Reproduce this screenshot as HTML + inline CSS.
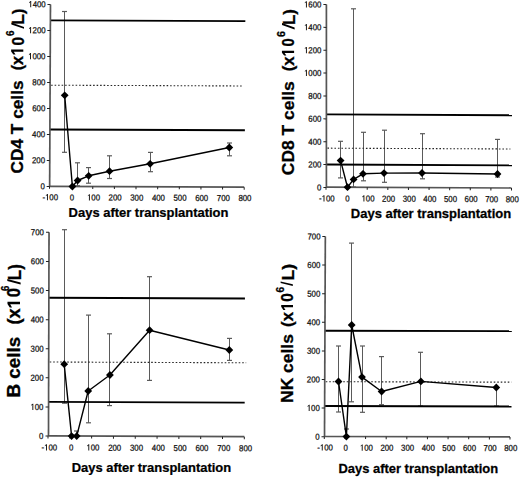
<!DOCTYPE html>
<html><head><meta charset="utf-8"><style>
html,body{margin:0;padding:0;background:#fff;}
body{width:520px;height:478px;overflow:hidden;}
svg{display:block;}
.t{font-family:"Liberation Sans",sans-serif;font-size:8.7px;fill:#111;stroke:#111;stroke-width:0.25px;}
.xt{font-family:"Liberation Sans",sans-serif;font-weight:bold;fill:#000;stroke:#000;stroke-width:0.25px;}
.yt{font-family:"Liberation Sans",sans-serif;font-weight:bold;fill:#000;stroke:#000;stroke-width:0.3px;}
</style></head><body>
<svg width="520" height="478" viewBox="0 0 520 478">
<rect width="520" height="478" fill="#fff"/>
<line x1="64.5" y1="11.5" x2="64.5" y2="95.3" stroke="#5a5a5a" stroke-width="1"/>
<line x1="62" y1="11.5" x2="67" y2="11.5" stroke="#5a5a5a" stroke-width="1.2"/>
<line x1="64.5" y1="95.3" x2="64.5" y2="152.3" stroke="#5a5a5a" stroke-width="1"/>
<line x1="62" y1="152.3" x2="67" y2="152.3" stroke="#5a5a5a" stroke-width="1.2"/>
<line x1="77.5" y1="162.8" x2="77.5" y2="180.5" stroke="#5a5a5a" stroke-width="1"/>
<line x1="75" y1="162.8" x2="80" y2="162.8" stroke="#5a5a5a" stroke-width="1.2"/>
<line x1="77.5" y1="180.5" x2="77.5" y2="185.8" stroke="#5a5a5a" stroke-width="1"/>
<line x1="75" y1="185.8" x2="80" y2="185.8" stroke="#5a5a5a" stroke-width="1.2"/>
<line x1="88.5" y1="167.6" x2="88.5" y2="175.8" stroke="#5a5a5a" stroke-width="1"/>
<line x1="86" y1="167.6" x2="91" y2="167.6" stroke="#5a5a5a" stroke-width="1.2"/>
<line x1="88.5" y1="175.8" x2="88.5" y2="183.2" stroke="#5a5a5a" stroke-width="1"/>
<line x1="86" y1="183.2" x2="91" y2="183.2" stroke="#5a5a5a" stroke-width="1.2"/>
<line x1="109.5" y1="155.8" x2="109.5" y2="171.2" stroke="#5a5a5a" stroke-width="1"/>
<line x1="107" y1="155.8" x2="112" y2="155.8" stroke="#5a5a5a" stroke-width="1.2"/>
<line x1="109.5" y1="171.2" x2="109.5" y2="178.5" stroke="#5a5a5a" stroke-width="1"/>
<line x1="107" y1="178.5" x2="112" y2="178.5" stroke="#5a5a5a" stroke-width="1.2"/>
<line x1="150.5" y1="152.4" x2="150.5" y2="163.8" stroke="#5a5a5a" stroke-width="1"/>
<line x1="148" y1="152.4" x2="153" y2="152.4" stroke="#5a5a5a" stroke-width="1.2"/>
<line x1="150.5" y1="163.8" x2="150.5" y2="171.7" stroke="#5a5a5a" stroke-width="1"/>
<line x1="148" y1="171.7" x2="153" y2="171.7" stroke="#5a5a5a" stroke-width="1.2"/>
<line x1="229.5" y1="143" x2="229.5" y2="147.5" stroke="#5a5a5a" stroke-width="1"/>
<line x1="227" y1="143" x2="232" y2="143" stroke="#5a5a5a" stroke-width="1.2"/>
<line x1="229.5" y1="147.5" x2="229.5" y2="155.8" stroke="#5a5a5a" stroke-width="1"/>
<line x1="227" y1="155.8" x2="232" y2="155.8" stroke="#5a5a5a" stroke-width="1.2"/>
<g transform="translate(49.65 186.35) matrix(1 0.004 -0.0045 1 0 0) translate(-49.65 -186.35)">
<line x1="49.65" y1="20.4" x2="244.6" y2="20.4" stroke="#000" stroke-width="1.85"/>
<line x1="50.65" y1="85.2" x2="243" y2="85.2" stroke="#262626" stroke-width="1.1" stroke-dasharray="1.6 1.9"/>
<line x1="49.65" y1="129.5" x2="244.6" y2="129.5" stroke="#000" stroke-width="1.85"/>
<line x1="49.65" y1="4.4" x2="49.65" y2="186.35" stroke="#555" stroke-width="1.7"/>
<line x1="49.65" y1="186.35" x2="244.2" y2="186.35" stroke="#555" stroke-width="1.7"/>
<line x1="46.65" y1="186.4" x2="49.65" y2="186.4" stroke="#222" stroke-width="1"/>
<text class="t" transform="translate(40.55 189.4) scale(0.9 1)">0</text>
<line x1="46.65" y1="160.4" x2="49.65" y2="160.4" stroke="#222" stroke-width="1"/>
<text class="t" transform="translate(31.84 163.4) scale(0.9 1)">200</text>
<line x1="46.65" y1="134.4" x2="49.65" y2="134.4" stroke="#222" stroke-width="1"/>
<text class="t" transform="translate(31.84 137.4) scale(0.9 1)">400</text>
<line x1="46.65" y1="108.4" x2="49.65" y2="108.4" stroke="#222" stroke-width="1"/>
<text class="t" transform="translate(31.84 111.4) scale(0.9 1)">600</text>
<line x1="46.65" y1="82.4" x2="49.65" y2="82.4" stroke="#222" stroke-width="1"/>
<text class="t" transform="translate(31.84 85.4) scale(0.9 1)">800</text>
<line x1="46.65" y1="56.4" x2="49.65" y2="56.4" stroke="#222" stroke-width="1"/>
<polygon points="30.38,59.4 30.38,53.17 29.76,53.17 28.35,54.35 28.35,55.22 29.44,54.31 29.44,59.4" fill="#111"/><text class="t" transform="translate(31.84 59.4) scale(0.9 1)">000</text>
<line x1="46.65" y1="30.4" x2="49.65" y2="30.4" stroke="#222" stroke-width="1"/>
<polygon points="30.38,33.4 30.38,27.17 29.76,27.17 28.35,28.35 28.35,29.22 29.44,28.31 29.44,33.4" fill="#111"/><text class="t" transform="translate(31.84 33.4) scale(0.9 1)">200</text>
<line x1="46.65" y1="4.4" x2="49.65" y2="4.4" stroke="#222" stroke-width="1"/>
<polygon points="30.38,7.4 30.38,1.17 29.76,1.17 28.35,2.35 28.35,3.22 29.44,2.31 29.44,7.4" fill="#111"/><text class="t" transform="translate(31.84 7.4) scale(0.9 1)">400</text>
<line x1="49.5" y1="186.35" x2="49.5" y2="188.85" stroke="#222" stroke-width="1"/>
<text class="t" transform="translate(42.47 200.3) scale(0.9 1)">-</text><polygon points="47.97,200.3 47.97,194.07 47.34,194.07 45.93,195.25 45.93,196.12 47.03,195.21 47.03,200.3" fill="#111"/><text class="t" transform="translate(49.43 200.3) scale(0.9 1)">00</text>
<line x1="71.13" y1="186.35" x2="71.13" y2="188.85" stroke="#222" stroke-width="1"/>
<text class="t" transform="translate(69.76 200.3) scale(0.9 1)">0</text>
<line x1="92.77" y1="186.35" x2="92.77" y2="188.85" stroke="#222" stroke-width="1"/>
<polygon points="89.93,200.3 89.93,194.07 89.31,194.07 87.9,195.25 87.9,196.12 88.99,195.21 88.99,200.3" fill="#111"/><text class="t" transform="translate(91.39 200.3) scale(0.9 1)">00</text>
<line x1="114.4" y1="186.35" x2="114.4" y2="188.85" stroke="#222" stroke-width="1"/>
<text class="t" transform="translate(108.67 200.3) scale(0.9 1)">200</text>
<line x1="136.03" y1="186.35" x2="136.03" y2="188.85" stroke="#222" stroke-width="1"/>
<text class="t" transform="translate(130.3 200.3) scale(0.9 1)">300</text>
<line x1="157.67" y1="186.35" x2="157.67" y2="188.85" stroke="#222" stroke-width="1"/>
<text class="t" transform="translate(151.94 200.3) scale(0.9 1)">400</text>
<line x1="179.3" y1="186.35" x2="179.3" y2="188.85" stroke="#222" stroke-width="1"/>
<text class="t" transform="translate(173.57 200.3) scale(0.9 1)">500</text>
<line x1="200.93" y1="186.35" x2="200.93" y2="188.85" stroke="#222" stroke-width="1"/>
<text class="t" transform="translate(195.2 200.3) scale(0.9 1)">600</text>
<line x1="222.57" y1="186.35" x2="222.57" y2="188.85" stroke="#222" stroke-width="1"/>
<text class="t" transform="translate(216.84 200.3) scale(0.9 1)">700</text>
<line x1="244.2" y1="186.35" x2="244.2" y2="188.85" stroke="#222" stroke-width="1"/>
<text class="t" transform="translate(238.47 200.3) scale(0.9 1)">800</text>
</g>
<polyline points="64.7,95.3 72.4,186.5 77.6,180.5 88.7,175.8 109.5,171.2 150.1,163.8 229.3,147.5" fill="none" stroke="#000" stroke-width="1.4" stroke-linejoin="round"/>
<path d="M64.7 91.4L68.6 95.3L64.7 99.2L60.8 95.3Z" fill="#000"/>
<path d="M72.4 182.6L76.3 186.5L72.4 190.4L68.5 186.5Z" fill="#000"/>
<path d="M77.6 176.6L81.5 180.5L77.6 184.4L73.7 180.5Z" fill="#000"/>
<path d="M88.7 171.9L92.6 175.8L88.7 179.7L84.8 175.8Z" fill="#000"/>
<path d="M109.5 167.3L113.4 171.2L109.5 175.1L105.6 171.2Z" fill="#000"/>
<path d="M150.1 159.9L154 163.8L150.1 167.7L146.2 163.8Z" fill="#000"/>
<path d="M229.3 143.6L233.2 147.5L229.3 151.4L225.4 147.5Z" fill="#000"/>
<text class="xt" style="font-size:12.5px" transform="translate(68.62 216.9) scale(1.0374 1)">Days after transplantation</text>
<text class="yt" style="font-size:17px" transform="translate(22.9 173.49) rotate(-90) scale(1.0158 1)">CD4 T cells</text>
<text class="yt" style="font-size:17px" transform="translate(23.4 70.31) rotate(-90) scale(0.9497 1)">(x</text>
<polygon points="23.3,49.6 11.13,49.6 11.13,51.52 13.36,54.6 15.57,54.6 13.78,51.85 23.3,51.85" fill="#000"/>
<text class="yt" style="font-size:17px" transform="translate(23.5 45.56) rotate(-90) scale(0.9040 1)">0</text>
<text class="yt" style="font-size:11px" transform="translate(13.5 36.02) rotate(-90) scale(0.9044 1)">6</text>
<polygon points="11.4,22.6 11.4,24.4 24,28.8 24,26.9" fill="#000"/>
<text class="yt" style="font-size:17px" transform="translate(24.4 24.66) rotate(-90) scale(1.0125 1)">L)</text>
<line x1="340.5" y1="141.3" x2="340.5" y2="160.6" stroke="#5a5a5a" stroke-width="1"/>
<line x1="338" y1="141.3" x2="343" y2="141.3" stroke="#5a5a5a" stroke-width="1.2"/>
<line x1="340.5" y1="160.6" x2="340.5" y2="177.9" stroke="#5a5a5a" stroke-width="1"/>
<line x1="338" y1="177.9" x2="343" y2="177.9" stroke="#5a5a5a" stroke-width="1.2"/>
<line x1="353.5" y1="8.8" x2="353.5" y2="179.4" stroke="#5a5a5a" stroke-width="1"/>
<line x1="351" y1="8.8" x2="356" y2="8.8" stroke="#5a5a5a" stroke-width="1.2"/>
<line x1="353.5" y1="179.4" x2="353.5" y2="187" stroke="#5a5a5a" stroke-width="1"/>
<line x1="351" y1="187" x2="356" y2="187" stroke="#5a5a5a" stroke-width="1.2"/>
<line x1="363.5" y1="132.3" x2="363.5" y2="173.8" stroke="#5a5a5a" stroke-width="1"/>
<line x1="361" y1="132.3" x2="366" y2="132.3" stroke="#5a5a5a" stroke-width="1.2"/>
<line x1="363.5" y1="173.8" x2="363.5" y2="180.8" stroke="#5a5a5a" stroke-width="1"/>
<line x1="361" y1="180.8" x2="366" y2="180.8" stroke="#5a5a5a" stroke-width="1.2"/>
<line x1="384.5" y1="130.2" x2="384.5" y2="173.1" stroke="#5a5a5a" stroke-width="1"/>
<line x1="382" y1="130.2" x2="387" y2="130.2" stroke="#5a5a5a" stroke-width="1.2"/>
<line x1="384.5" y1="173.1" x2="384.5" y2="182.3" stroke="#5a5a5a" stroke-width="1"/>
<line x1="382" y1="182.3" x2="387" y2="182.3" stroke="#5a5a5a" stroke-width="1.2"/>
<line x1="422.5" y1="133.7" x2="422.5" y2="173" stroke="#5a5a5a" stroke-width="1"/>
<line x1="420" y1="133.7" x2="425" y2="133.7" stroke="#5a5a5a" stroke-width="1.2"/>
<line x1="422.5" y1="173" x2="422.5" y2="178.8" stroke="#5a5a5a" stroke-width="1"/>
<line x1="420" y1="178.8" x2="425" y2="178.8" stroke="#5a5a5a" stroke-width="1.2"/>
<line x1="497.5" y1="139.4" x2="497.5" y2="174" stroke="#5a5a5a" stroke-width="1"/>
<line x1="495" y1="139.4" x2="500" y2="139.4" stroke="#5a5a5a" stroke-width="1.2"/>
<line x1="497.5" y1="174" x2="497.5" y2="177" stroke="#5a5a5a" stroke-width="1"/>
<line x1="495" y1="177" x2="500" y2="177" stroke="#5a5a5a" stroke-width="1.2"/>
<g transform="translate(326.4 187.15) matrix(1 0.0045 -0.0 1 0 0) translate(-326.4 -187.15)">
<line x1="326.4" y1="114.4" x2="512" y2="114.4" stroke="#000" stroke-width="1.85"/>
<line x1="327.4" y1="148.15" x2="510.4" y2="148.15" stroke="#262626" stroke-width="1.1" stroke-dasharray="1.6 1.9"/>
<line x1="326.4" y1="164.5" x2="512" y2="164.5" stroke="#000" stroke-width="1.85"/>
<line x1="326.4" y1="4.5" x2="326.4" y2="187.15" stroke="#555" stroke-width="1.7"/>
<line x1="326.4" y1="187.15" x2="511.5" y2="187.15" stroke="#555" stroke-width="1.7"/>
<line x1="323.4" y1="187.5" x2="326.4" y2="187.5" stroke="#222" stroke-width="1"/>
<text class="t" transform="translate(317.05 190.5) scale(0.9 1)">0</text>
<line x1="323.4" y1="164.62" x2="326.4" y2="164.62" stroke="#222" stroke-width="1"/>
<text class="t" transform="translate(308.34 167.62) scale(0.9 1)">200</text>
<line x1="323.4" y1="141.75" x2="326.4" y2="141.75" stroke="#222" stroke-width="1"/>
<text class="t" transform="translate(308.34 144.75) scale(0.9 1)">400</text>
<line x1="323.4" y1="118.88" x2="326.4" y2="118.88" stroke="#222" stroke-width="1"/>
<text class="t" transform="translate(308.34 121.88) scale(0.9 1)">600</text>
<line x1="323.4" y1="96" x2="326.4" y2="96" stroke="#222" stroke-width="1"/>
<text class="t" transform="translate(308.34 99) scale(0.9 1)">800</text>
<line x1="323.4" y1="73.12" x2="326.4" y2="73.12" stroke="#222" stroke-width="1"/>
<polygon points="306.88,76.12 306.88,69.9 306.26,69.9 304.85,71.08 304.85,71.95 305.94,71.04 305.94,76.12" fill="#111"/><text class="t" transform="translate(308.34 76.12) scale(0.9 1)">000</text>
<line x1="323.4" y1="50.25" x2="326.4" y2="50.25" stroke="#222" stroke-width="1"/>
<polygon points="306.88,53.25 306.88,47.02 306.26,47.02 304.85,48.2 304.85,49.07 305.94,48.16 305.94,53.25" fill="#111"/><text class="t" transform="translate(308.34 53.25) scale(0.9 1)">200</text>
<line x1="323.4" y1="27.38" x2="326.4" y2="27.38" stroke="#222" stroke-width="1"/>
<polygon points="306.88,30.38 306.88,24.15 306.26,24.15 304.85,25.33 304.85,26.2 305.94,25.29 305.94,30.38" fill="#111"/><text class="t" transform="translate(308.34 30.38) scale(0.9 1)">400</text>
<line x1="323.4" y1="4.5" x2="326.4" y2="4.5" stroke="#222" stroke-width="1"/>
<polygon points="306.88,7.5 306.88,1.27 306.26,1.27 304.85,2.45 304.85,3.32 305.94,2.41 305.94,7.5" fill="#111"/><text class="t" transform="translate(308.34 7.5) scale(0.9 1)">600</text>
<line x1="326" y1="187.15" x2="326" y2="189.65" stroke="#222" stroke-width="1"/>
<text class="t" transform="translate(318.97 201.4) scale(0.9 1)">-</text><polygon points="324.47,201.4 324.47,195.17 323.84,195.17 322.43,196.35 322.43,197.22 323.53,196.31 323.53,201.4" fill="#111"/><text class="t" transform="translate(325.93 201.4) scale(0.9 1)">00</text>
<line x1="346.61" y1="187.15" x2="346.61" y2="189.65" stroke="#222" stroke-width="1"/>
<text class="t" transform="translate(345.23 201.4) scale(0.9 1)">0</text>
<line x1="367.22" y1="187.15" x2="367.22" y2="189.65" stroke="#222" stroke-width="1"/>
<polygon points="364.39,201.4 364.39,195.17 363.76,195.17 362.35,196.35 362.35,197.22 363.45,196.31 363.45,201.4" fill="#111"/><text class="t" transform="translate(365.85 201.4) scale(0.9 1)">00</text>
<line x1="387.83" y1="187.15" x2="387.83" y2="189.65" stroke="#222" stroke-width="1"/>
<text class="t" transform="translate(382.1 201.4) scale(0.9 1)">200</text>
<line x1="408.44" y1="187.15" x2="408.44" y2="189.65" stroke="#222" stroke-width="1"/>
<text class="t" transform="translate(402.71 201.4) scale(0.9 1)">300</text>
<line x1="429.06" y1="187.15" x2="429.06" y2="189.65" stroke="#222" stroke-width="1"/>
<text class="t" transform="translate(423.33 201.4) scale(0.9 1)">400</text>
<line x1="449.67" y1="187.15" x2="449.67" y2="189.65" stroke="#222" stroke-width="1"/>
<text class="t" transform="translate(443.94 201.4) scale(0.9 1)">500</text>
<line x1="470.28" y1="187.15" x2="470.28" y2="189.65" stroke="#222" stroke-width="1"/>
<text class="t" transform="translate(464.55 201.4) scale(0.9 1)">600</text>
<line x1="490.89" y1="187.15" x2="490.89" y2="189.65" stroke="#222" stroke-width="1"/>
<text class="t" transform="translate(485.16 201.4) scale(0.9 1)">700</text>
<line x1="511.5" y1="187.15" x2="511.5" y2="189.65" stroke="#222" stroke-width="1"/>
<text class="t" transform="translate(505.77 201.4) scale(0.9 1)">800</text>
</g>
<polyline points="340.6,160.6 347.5,187.2 353.6,179.4 363,173.8 384,173.1 422,173 497.5,174" fill="none" stroke="#000" stroke-width="1.4" stroke-linejoin="round"/>
<path d="M340.6 156.7L344.5 160.6L340.6 164.5L336.7 160.6Z" fill="#000"/>
<path d="M347.5 183.3L351.4 187.2L347.5 191.1L343.6 187.2Z" fill="#000"/>
<path d="M353.6 175.5L357.5 179.4L353.6 183.3L349.7 179.4Z" fill="#000"/>
<path d="M363 169.9L366.9 173.8L363 177.7L359.1 173.8Z" fill="#000"/>
<path d="M384 169.2L387.9 173.1L384 177L380.1 173.1Z" fill="#000"/>
<path d="M422 169.1L425.9 173L422 176.9L418.1 173Z" fill="#000"/>
<path d="M497.5 170.1L501.4 174L497.5 177.9L493.6 174Z" fill="#000"/>
<text class="xt" style="font-size:12.5px" transform="translate(350.82 218.4) scale(1.0400 1)">Days after transplantation</text>
<text class="yt" style="font-size:17px" transform="translate(294 175.2) rotate(-90) scale(1.0258 1)">CD8 T cells</text>
<text class="yt" style="font-size:17px" transform="translate(294.1 71.34) rotate(-90) scale(0.9922 1)">(x</text>
<polygon points="294.1,50.8 281.93,50.8 281.93,52.64 284.16,55.6 286.37,55.6 284.58,52.96 294.1,52.96" fill="#000"/>
<text class="yt" style="font-size:17px" transform="translate(294.3 46.54) rotate(-90) scale(0.8669 1)">0</text>
<text class="yt" style="font-size:11px" transform="translate(284.5 36.95) rotate(-90) scale(0.9797 1)">6</text>
<polygon points="282,23 282,25 294.6,29.5 294.6,27.5" fill="#000"/>
<text class="yt" style="font-size:17px" transform="translate(294.8 25.04) rotate(-90) scale(0.9911 1)">L)</text>
<line x1="64.5" y1="229.7" x2="64.5" y2="364.2" stroke="#5a5a5a" stroke-width="1"/>
<line x1="62" y1="229.7" x2="67" y2="229.7" stroke="#5a5a5a" stroke-width="1.2"/>
<line x1="64.5" y1="364.2" x2="64.5" y2="403.2" stroke="#5a5a5a" stroke-width="1"/>
<line x1="62" y1="403.2" x2="67" y2="403.2" stroke="#5a5a5a" stroke-width="1.2"/>
<line x1="76.5" y1="431" x2="76.5" y2="436.1" stroke="#5a5a5a" stroke-width="1"/>
<line x1="74" y1="431" x2="79" y2="431" stroke="#5a5a5a" stroke-width="1.2"/>
<line x1="88.5" y1="315.1" x2="88.5" y2="391" stroke="#5a5a5a" stroke-width="1"/>
<line x1="86" y1="315.1" x2="91" y2="315.1" stroke="#5a5a5a" stroke-width="1.2"/>
<line x1="88.5" y1="391" x2="88.5" y2="422.8" stroke="#5a5a5a" stroke-width="1"/>
<line x1="86" y1="422.8" x2="91" y2="422.8" stroke="#5a5a5a" stroke-width="1.2"/>
<line x1="109.5" y1="333.8" x2="109.5" y2="375" stroke="#5a5a5a" stroke-width="1"/>
<line x1="107" y1="333.8" x2="112" y2="333.8" stroke="#5a5a5a" stroke-width="1.2"/>
<line x1="109.5" y1="375" x2="109.5" y2="405.6" stroke="#5a5a5a" stroke-width="1"/>
<line x1="107" y1="405.6" x2="112" y2="405.6" stroke="#5a5a5a" stroke-width="1.2"/>
<line x1="149.5" y1="276.7" x2="149.5" y2="330.2" stroke="#5a5a5a" stroke-width="1"/>
<line x1="147" y1="276.7" x2="152" y2="276.7" stroke="#5a5a5a" stroke-width="1.2"/>
<line x1="149.5" y1="330.2" x2="149.5" y2="380.4" stroke="#5a5a5a" stroke-width="1"/>
<line x1="147" y1="380.4" x2="152" y2="380.4" stroke="#5a5a5a" stroke-width="1.2"/>
<line x1="229.5" y1="338.4" x2="229.5" y2="350" stroke="#5a5a5a" stroke-width="1"/>
<line x1="227" y1="338.4" x2="232" y2="338.4" stroke="#5a5a5a" stroke-width="1.2"/>
<line x1="229.5" y1="350" x2="229.5" y2="360.4" stroke="#5a5a5a" stroke-width="1"/>
<line x1="227" y1="360.4" x2="232" y2="360.4" stroke="#5a5a5a" stroke-width="1.2"/>
<g transform="translate(48.5 435.9) matrix(1 0.004 -0.0026 1 0 0) translate(-48.5 -435.9)">
<line x1="48.5" y1="297.7" x2="244.6" y2="297.7" stroke="#000" stroke-width="1.85"/>
<line x1="49.5" y1="362" x2="246" y2="362" stroke="#262626" stroke-width="1.1" stroke-dasharray="1.6 1.9"/>
<line x1="48.5" y1="401.8" x2="244.6" y2="401.8" stroke="#000" stroke-width="1.85"/>
<line x1="48.5" y1="232.3" x2="48.5" y2="435.9" stroke="#555" stroke-width="1.7"/>
<line x1="48.5" y1="435.9" x2="244.3" y2="435.9" stroke="#555" stroke-width="1.7"/>
<line x1="45.5" y1="436.1" x2="48.5" y2="436.1" stroke="#222" stroke-width="1"/>
<text class="t" transform="translate(39.05 439.1) scale(0.9 1)">0</text>
<line x1="45.5" y1="406.99" x2="48.5" y2="406.99" stroke="#222" stroke-width="1"/>
<polygon points="33.24,409.99 33.24,403.76 32.61,403.76 31.2,404.94 31.2,405.81 32.3,404.9 32.3,409.99" fill="#111"/><text class="t" transform="translate(34.69 409.99) scale(0.9 1)">00</text>
<line x1="45.5" y1="377.87" x2="48.5" y2="377.87" stroke="#222" stroke-width="1"/>
<text class="t" transform="translate(30.34 380.87) scale(0.9 1)">200</text>
<line x1="45.5" y1="348.76" x2="48.5" y2="348.76" stroke="#222" stroke-width="1"/>
<text class="t" transform="translate(30.34 351.76) scale(0.9 1)">300</text>
<line x1="45.5" y1="319.64" x2="48.5" y2="319.64" stroke="#222" stroke-width="1"/>
<text class="t" transform="translate(30.34 322.64) scale(0.9 1)">400</text>
<line x1="45.5" y1="290.53" x2="48.5" y2="290.53" stroke="#222" stroke-width="1"/>
<text class="t" transform="translate(30.34 293.53) scale(0.9 1)">500</text>
<line x1="45.5" y1="261.41" x2="48.5" y2="261.41" stroke="#222" stroke-width="1"/>
<text class="t" transform="translate(30.34 264.41) scale(0.9 1)">600</text>
<line x1="45.5" y1="232.3" x2="48.5" y2="232.3" stroke="#222" stroke-width="1"/>
<text class="t" transform="translate(30.34 235.3) scale(0.9 1)">700</text>
<line x1="48" y1="435.9" x2="48" y2="438.4" stroke="#222" stroke-width="1"/>
<text class="t" transform="translate(41.47 450.4) scale(0.9 1)">-</text><polygon points="46.97,450.4 46.97,444.17 46.34,444.17 44.93,445.35 44.93,446.22 46.03,445.31 46.03,450.4" fill="#111"/><text class="t" transform="translate(48.43 450.4) scale(0.9 1)">00</text>
<line x1="69.81" y1="435.9" x2="69.81" y2="438.4" stroke="#222" stroke-width="1"/>
<text class="t" transform="translate(68.93 450.4) scale(0.9 1)">0</text>
<line x1="91.62" y1="435.9" x2="91.62" y2="438.4" stroke="#222" stroke-width="1"/>
<polygon points="89.29,450.4 89.29,444.17 88.66,444.17 87.25,445.35 87.25,446.22 88.35,445.31 88.35,450.4" fill="#111"/><text class="t" transform="translate(90.75 450.4) scale(0.9 1)">00</text>
<line x1="113.43" y1="435.9" x2="113.43" y2="438.4" stroke="#222" stroke-width="1"/>
<text class="t" transform="translate(108.2 450.4) scale(0.9 1)">200</text>
<line x1="135.24" y1="435.9" x2="135.24" y2="438.4" stroke="#222" stroke-width="1"/>
<text class="t" transform="translate(130.01 450.4) scale(0.9 1)">300</text>
<line x1="157.06" y1="435.9" x2="157.06" y2="438.4" stroke="#222" stroke-width="1"/>
<text class="t" transform="translate(151.83 450.4) scale(0.9 1)">400</text>
<line x1="178.87" y1="435.9" x2="178.87" y2="438.4" stroke="#222" stroke-width="1"/>
<text class="t" transform="translate(173.64 450.4) scale(0.9 1)">500</text>
<line x1="200.68" y1="435.9" x2="200.68" y2="438.4" stroke="#222" stroke-width="1"/>
<text class="t" transform="translate(195.45 450.4) scale(0.9 1)">600</text>
<line x1="222.49" y1="435.9" x2="222.49" y2="438.4" stroke="#222" stroke-width="1"/>
<text class="t" transform="translate(217.26 450.4) scale(0.9 1)">700</text>
<line x1="244.3" y1="435.9" x2="244.3" y2="438.4" stroke="#222" stroke-width="1"/>
<text class="t" transform="translate(239.07 450.4) scale(0.9 1)">800</text>
</g>
<polyline points="64.2,364.2 71.6,436.1 76.7,436.1 88.2,391 109.9,375 149.6,330.2 229.3,350" fill="none" stroke="#000" stroke-width="1.4" stroke-linejoin="round"/>
<path d="M64.2 360.3L68.1 364.2L64.2 368.1L60.3 364.2Z" fill="#000"/>
<path d="M71.6 432.2L75.5 436.1L71.6 440L67.7 436.1Z" fill="#000"/>
<path d="M76.7 432.2L80.6 436.1L76.7 440L72.8 436.1Z" fill="#000"/>
<path d="M88.2 387.1L92.1 391L88.2 394.9L84.3 391Z" fill="#000"/>
<path d="M109.9 371.1L113.8 375L109.9 378.9L106 375Z" fill="#000"/>
<path d="M149.6 326.3L153.5 330.2L149.6 334.1L145.7 330.2Z" fill="#000"/>
<path d="M229.3 346.1L233.2 350L229.3 353.9L225.4 350Z" fill="#000"/>
<text class="xt" style="font-size:12.5px" transform="translate(71.73 471.5) scale(1.0348 1)">Days after transplantation</text>
<text class="yt" style="font-size:17.5px" transform="translate(20.1 397.47) rotate(-90) scale(1.0768 1)">B cells</text>
<text class="yt" style="font-size:17.5px" transform="translate(20 324.6) rotate(-90) scale(1.0327 1)">(x</text>
<polygon points="20,301.7 7.47,301.7 7.47,303.88 9.76,307.4 12.04,307.4 10.2,304.26 20,304.26" fill="#000"/>
<text class="yt" style="font-size:17.5px" transform="translate(20 297.32) rotate(-90) scale(0.9504 1)">0</text>
<text class="yt" style="font-size:11px" transform="translate(9.4 291.01) rotate(-90) scale(0.8667 1)">6</text>
<polygon points="7.3,279 7.3,281 20.6,284.6 20.6,282.6" fill="#000"/>
<text class="yt" style="font-size:17.5px" transform="translate(20.5 280.14) rotate(-90) scale(0.9628 1)">L)</text>
<line x1="338.5" y1="346" x2="338.5" y2="381.5" stroke="#5a5a5a" stroke-width="1"/>
<line x1="336" y1="346" x2="341" y2="346" stroke="#5a5a5a" stroke-width="1.2"/>
<line x1="338.5" y1="381.5" x2="338.5" y2="412" stroke="#5a5a5a" stroke-width="1"/>
<line x1="336" y1="412" x2="341" y2="412" stroke="#5a5a5a" stroke-width="1.2"/>
<line x1="346.5" y1="429" x2="346.5" y2="436.6" stroke="#5a5a5a" stroke-width="1"/>
<line x1="344" y1="429" x2="349" y2="429" stroke="#5a5a5a" stroke-width="1.2"/>
<line x1="351.5" y1="243.1" x2="351.5" y2="325" stroke="#5a5a5a" stroke-width="1"/>
<line x1="349" y1="243.1" x2="354" y2="243.1" stroke="#5a5a5a" stroke-width="1.2"/>
<line x1="351.5" y1="325" x2="351.5" y2="401.8" stroke="#5a5a5a" stroke-width="1"/>
<line x1="349" y1="401.8" x2="354" y2="401.8" stroke="#5a5a5a" stroke-width="1.2"/>
<line x1="362.5" y1="346" x2="362.5" y2="377.1" stroke="#5a5a5a" stroke-width="1"/>
<line x1="360" y1="346" x2="365" y2="346" stroke="#5a5a5a" stroke-width="1.2"/>
<line x1="362.5" y1="377.1" x2="362.5" y2="412.3" stroke="#5a5a5a" stroke-width="1"/>
<line x1="360" y1="412.3" x2="365" y2="412.3" stroke="#5a5a5a" stroke-width="1.2"/>
<line x1="381.5" y1="356.6" x2="381.5" y2="391.5" stroke="#5a5a5a" stroke-width="1"/>
<line x1="379" y1="356.6" x2="384" y2="356.6" stroke="#5a5a5a" stroke-width="1.2"/>
<line x1="381.5" y1="391.5" x2="381.5" y2="404.7" stroke="#5a5a5a" stroke-width="1"/>
<line x1="379" y1="404.7" x2="384" y2="404.7" stroke="#5a5a5a" stroke-width="1.2"/>
<line x1="420.5" y1="352.3" x2="420.5" y2="381.4" stroke="#5a5a5a" stroke-width="1"/>
<line x1="418" y1="352.3" x2="423" y2="352.3" stroke="#5a5a5a" stroke-width="1.2"/>
<line x1="420.5" y1="381.4" x2="420.5" y2="406" stroke="#5a5a5a" stroke-width="1"/>
<line x1="418" y1="406" x2="423" y2="406" stroke="#5a5a5a" stroke-width="1.2"/>
<line x1="496.5" y1="387.5" x2="496.5" y2="406" stroke="#5a5a5a" stroke-width="1"/>
<line x1="494" y1="406" x2="499" y2="406" stroke="#5a5a5a" stroke-width="1.2"/>
<g transform="translate(324.5 436.5) matrix(1 0.0025 -0.0042 1 0 0) translate(-324.5 -436.5)">
<line x1="324.5" y1="330.7" x2="511.4" y2="330.7" stroke="#000" stroke-width="1.85"/>
<line x1="325.5" y1="381.7" x2="511.2" y2="381.7" stroke="#262626" stroke-width="1.1" stroke-dasharray="1.6 1.9"/>
<line x1="324.5" y1="406" x2="511.4" y2="406" stroke="#000" stroke-width="1.85"/>
<line x1="324.5" y1="236.5" x2="324.5" y2="436.5" stroke="#555" stroke-width="1.7"/>
<line x1="324.5" y1="436.5" x2="510" y2="436.5" stroke="#555" stroke-width="1.7"/>
<line x1="321.5" y1="436.7" x2="324.5" y2="436.7" stroke="#222" stroke-width="1"/>
<text class="t" transform="translate(315.35 439.7) scale(0.9 1)">0</text>
<line x1="321.5" y1="408.1" x2="324.5" y2="408.1" stroke="#222" stroke-width="1"/>
<polygon points="309.54,411.1 309.54,404.87 308.91,404.87 307.5,406.05 307.5,406.92 308.6,406.01 308.6,411.1" fill="#111"/><text class="t" transform="translate(310.99 411.1) scale(0.9 1)">00</text>
<line x1="321.5" y1="379.5" x2="324.5" y2="379.5" stroke="#222" stroke-width="1"/>
<text class="t" transform="translate(306.64 382.5) scale(0.9 1)">200</text>
<line x1="321.5" y1="350.9" x2="324.5" y2="350.9" stroke="#222" stroke-width="1"/>
<text class="t" transform="translate(306.64 353.9) scale(0.9 1)">300</text>
<line x1="321.5" y1="322.3" x2="324.5" y2="322.3" stroke="#222" stroke-width="1"/>
<text class="t" transform="translate(306.64 325.3) scale(0.9 1)">400</text>
<line x1="321.5" y1="293.7" x2="324.5" y2="293.7" stroke="#222" stroke-width="1"/>
<text class="t" transform="translate(306.64 296.7) scale(0.9 1)">500</text>
<line x1="321.5" y1="265.1" x2="324.5" y2="265.1" stroke="#222" stroke-width="1"/>
<text class="t" transform="translate(306.64 268.1) scale(0.9 1)">600</text>
<line x1="321.5" y1="236.5" x2="324.5" y2="236.5" stroke="#222" stroke-width="1"/>
<text class="t" transform="translate(306.64 239.5) scale(0.9 1)">700</text>
<line x1="324.3" y1="436.5" x2="324.3" y2="439" stroke="#222" stroke-width="1"/>
<text class="t" transform="translate(317.27 450.6) scale(0.9 1)">-</text><polygon points="322.77,450.6 322.77,444.37 322.14,444.37 320.73,445.55 320.73,446.42 321.83,445.51 321.83,450.6" fill="#111"/><text class="t" transform="translate(324.23 450.6) scale(0.9 1)">00</text>
<line x1="344.93" y1="436.5" x2="344.93" y2="439" stroke="#222" stroke-width="1"/>
<text class="t" transform="translate(343.56 450.6) scale(0.9 1)">0</text>
<line x1="365.57" y1="436.5" x2="365.57" y2="439" stroke="#222" stroke-width="1"/>
<polygon points="362.73,450.6 362.73,444.37 362.11,444.37 360.7,445.55 360.7,446.42 361.79,445.51 361.79,450.6" fill="#111"/><text class="t" transform="translate(364.19 450.6) scale(0.9 1)">00</text>
<line x1="386.2" y1="436.5" x2="386.2" y2="439" stroke="#222" stroke-width="1"/>
<text class="t" transform="translate(380.47 450.6) scale(0.9 1)">200</text>
<line x1="406.83" y1="436.5" x2="406.83" y2="439" stroke="#222" stroke-width="1"/>
<text class="t" transform="translate(401.1 450.6) scale(0.9 1)">300</text>
<line x1="427.47" y1="436.5" x2="427.47" y2="439" stroke="#222" stroke-width="1"/>
<text class="t" transform="translate(421.74 450.6) scale(0.9 1)">400</text>
<line x1="448.1" y1="436.5" x2="448.1" y2="439" stroke="#222" stroke-width="1"/>
<text class="t" transform="translate(442.37 450.6) scale(0.9 1)">500</text>
<line x1="468.73" y1="436.5" x2="468.73" y2="439" stroke="#222" stroke-width="1"/>
<text class="t" transform="translate(463 450.6) scale(0.9 1)">600</text>
<line x1="489.37" y1="436.5" x2="489.37" y2="439" stroke="#222" stroke-width="1"/>
<text class="t" transform="translate(483.64 450.6) scale(0.9 1)">700</text>
<line x1="510" y1="436.5" x2="510" y2="439" stroke="#222" stroke-width="1"/>
<text class="t" transform="translate(504.27 450.6) scale(0.9 1)">800</text>
</g>
<polyline points="338.5,381.5 346.4,436.6 351.7,325 362,377.1 381.6,391.5 420.9,381.4 496.3,387.5" fill="none" stroke="#000" stroke-width="1.4" stroke-linejoin="round"/>
<path d="M338.5 377.6L342.4 381.5L338.5 385.4L334.6 381.5Z" fill="#000"/>
<path d="M346.4 432.7L350.3 436.6L346.4 440.5L342.5 436.6Z" fill="#000"/>
<path d="M351.7 321.1L355.6 325L351.7 328.9L347.8 325Z" fill="#000"/>
<path d="M362 373.2L365.9 377.1L362 381L358.1 377.1Z" fill="#000"/>
<path d="M381.6 387.6L385.5 391.5L381.6 395.4L377.7 391.5Z" fill="#000"/>
<path d="M420.9 377.5L424.8 381.4L420.9 385.3L417 381.4Z" fill="#000"/>
<path d="M496.3 383.6L500.2 387.5L496.3 391.4L492.4 387.5Z" fill="#000"/>
<text class="xt" style="font-size:12.5px" transform="translate(338.43 473) scale(1.0361 1)">Days after transplantation</text>
<text class="yt" style="font-size:17px" transform="translate(292.6 402.88) rotate(-90) scale(1.0255 1)">NK cells</text>
<text class="yt" style="font-size:16.5px" transform="translate(293 326.94) rotate(-90) scale(1.0150 1)">(x</text>
<polygon points="293,304.9 281.19,304.9 281.19,306.85 283.35,310 285.49,310 283.76,307.19 293,307.19" fill="#000"/>
<text class="yt" style="font-size:16.5px" transform="translate(293.1 301.86) rotate(-90) scale(0.9314 1)">0</text>
<text class="yt" style="font-size:11px" transform="translate(284.4 292.43) rotate(-90) scale(0.9232 1)">6</text>
<polygon points="280.6,281.4 280.6,283 292.8,285.9 292.8,284.2" fill="#000"/>
<text class="yt" style="font-size:16.5px" transform="translate(293.6 280.39) rotate(-90) scale(1.0652 1)">L)</text>
</svg>
</body></html>
